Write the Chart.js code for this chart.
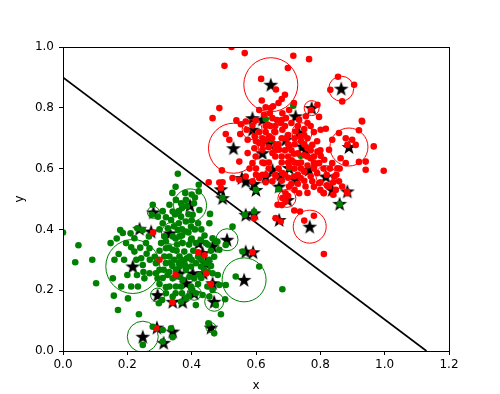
<!DOCTYPE html>
<html>
<head>
<meta charset="utf-8">
<script src="https://cdn.jsdelivr.net/npm/chart.js@4/dist/chart.umd.min.js"></script>
<style>
  html, body { margin: 0; padding: 0; background: #fff; }
  #chart { display: block; }
</style>
</head>
<body>
<canvas id="chart" width="500" height="394"></canvas>
<script>
// tick labels
const xTicks = [0, 0.2, 0.4, 0.6, 0.8, 1.0, 1.2];
const yTicks = [0, 0.2, 0.4, 0.6, 0.8, 1.0];

// decision line end points
const lineX = [0, 1.13];
const lineY = [0.9, 0];

// class +1 (red)
const redPoints = [
  [0.524,1.0],[0.565,0.980],[0.502,0.938],[0.716,0.971],[0.765,0.960],[0.699,0.931],[0.616,0.895],
  [0.662,0.860],[0.690,0.843],[0.680,0.829],[0.670,0.816],[0.653,0.805],[0.646,0.799],[0.630,0.802],
  [0.618,0.824],[0.486,0.799],[0.465,0.766],[0.539,0.759],[0.568,0.755],[0.553,0.746],[0.506,0.714],
  [0.517,0.695],[0.551,0.714],[0.571,0.728],[0.589,0.742],[0.596,0.706],[0.574,0.695],[0.548,0.623],
  [0.494,0.594],[0.574,0.651],[0.595,0.667],[0.610,0.684],[0.630,0.695],[0.620,0.662],[0.599,0.640],
  [0.589,0.618],[0.625,0.618],[0.651,0.651],[0.672,0.662],[0.661,0.678],[0.641,0.706],[0.657,0.722],
  [0.682,0.728],[0.695,0.700],[0.703,0.673],[0.718,0.649],[0.711,0.627],[0.732,0.618],[0.750,0.644],
  [0.760,0.667],[0.775,0.678],[0.791,0.656],[0.770,0.634],[0.781,0.607],[0.796,0.618],[0.812,0.629],
  [0.801,0.642],[0.739,0.706],[0.723,0.722],[0.734,0.761],[0.755,0.772],[0.771,0.793],[0.791,0.810],
  [0.796,0.770],[0.801,0.728],[0.817,0.731],[0.693,0.766],[0.677,0.750],[0.703,0.793],[0.718,0.816],
  [0.682,0.782],[0.651,0.766],[0.636,0.745],[0.625,0.777],[0.643,0.782],[0.610,0.793],[0.599,0.759],
  [0.827,0.662],[0.837,0.695],[0.858,0.717],[0.879,0.700],[0.899,0.695],[0.884,0.678],[0.910,0.678],
  [0.920,0.726],[0.930,0.755],[0.966,0.673],[0.941,0.623],[0.941,0.596],[0.997,0.593],[0.837,0.618],
  [0.863,0.634],[0.879,0.618],[0.853,0.601],[0.843,0.574],[0.827,0.541],[0.811,0.519],[0.848,0.530],
  [0.858,0.558],[0.868,0.541],[0.884,0.519],[0.796,0.552],[0.775,0.558],[0.754,0.541],[0.734,0.519],
  [0.703,0.541],[0.692,0.519],[0.682,0.503],[0.667,0.481],[0.692,0.492],[0.661,0.574],[0.682,0.585],
  [0.703,0.607],[0.718,0.574],[0.739,0.569],[0.651,0.558],[0.630,0.580],[0.610,0.569],[0.589,0.558],
  [0.568,0.574],[0.548,0.563],[0.527,0.569],[0.486,0.554],[0.453,0.555],[0.491,0.536],[0.719,0.462],
  [0.737,0.459],[0.677,0.426],[0.661,0.437],[0.750,0.429],[0.780,0.445],[0.811,0.319],[0.594,0.437],
  [0.855,0.902],[0.905,0.876],[0.831,0.859],[0.868,0.821],[0.929,0.757],[0.920,0.622],[0.883,0.524],
  [0.810,0.520],[0.840,0.514],
  [0.62,0.70],[0.66,0.72],[0.68,0.70],[0.70,0.68],[0.72,0.70],[0.74,0.69],[0.76,0.70],[0.78,0.72],
  [0.79,0.69],[0.66,0.64],[0.68,0.62],[0.70,0.64],[0.72,0.60],[0.74,0.62],[0.76,0.64],[0.78,0.62],
  [0.64,0.60],[0.62,0.62],[0.60,0.60],[0.61,0.575],[0.63,0.555],[0.67,0.60],[0.69,0.58],[0.71,0.55],
  [0.73,0.58],[0.75,0.59],[0.77,0.575],[0.79,0.585],[0.80,0.555],[0.82,0.545],[0.84,0.555],
  [0.645,0.74],[0.665,0.76],[0.69,0.74],[0.71,0.75],[0.73,0.74],[0.75,0.73],[0.76,0.75],
  [0.63,0.72],[0.65,0.70],[0.67,0.68],[0.69,0.66],[0.71,0.66],[0.73,0.65],[0.75,0.68],[0.77,0.66],
  [0.78,0.64],[0.80,0.66],[0.81,0.60],[0.82,0.58],[0.83,0.60],[0.85,0.58],[0.86,0.60],[0.78,0.60],
  [0.76,0.61],[0.74,0.60],[0.72,0.62],[0.70,0.62],[0.68,0.64],[0.66,0.66],[0.64,0.67],[0.62,0.68],
  [0.60,0.69],[0.61,0.72],[0.63,0.74],[0.66,0.74],[0.68,0.76],[0.70,0.71],[0.72,0.68],[0.75,0.71],
  [0.77,0.74],[0.64,0.62],[0.62,0.58],[0.60,0.58],[0.58,0.60],[0.66,0.58],[0.68,0.56],[0.70,0.57],
  [0.73,0.55],[0.75,0.56],[0.78,0.54],[0.80,0.53],[0.76,0.52],[0.72,0.53],[0.70,0.51],[0.68,0.48],
  // red points on the green side
  [0.280,0.390],[0.300,0.300],[0.350,0.250],[0.420,0.325],[0.440,0.315],[0.445,0.255],[0.460,0.220],
  [0.340,0.160],[0.290,0.075],[0.589,0.325],[0.496,0.555]
];

// class -1 (green)
const greenPoints = [
  [0.0,0.39],[0.048,0.348],[0.038,0.292],[0.091,0.300],[0.103,0.223],[0.148,0.355],[0.160,0.300],
  [0.158,0.182],[0.171,0.135],[0.202,0.173],[0.236,0.121],[0.178,0.398],[0.186,0.388],[0.167,0.370],
  [0.173,0.319],[0.155,0.239],[0.181,0.212],[0.212,0.212],[0.233,0.212],[0.253,0.239],[0.269,0.256],
  [0.248,0.283],[0.228,0.300],[0.243,0.305],[0.222,0.327],[0.222,0.371],[0.231,0.404],[0.210,0.387],
  [0.196,0.355],[0.212,0.341],[0.248,0.398],[0.267,0.377],[0.258,0.355],[0.269,0.338],[0.289,0.289],
  [0.289,0.256],[0.300,0.267],[0.294,0.239],[0.313,0.267],[0.320,0.289],[0.315,0.311],[0.320,0.338],
  [0.305,0.355],[0.315,0.377],[0.326,0.404],[0.336,0.431],[0.341,0.459],[0.331,0.481],[0.357,0.583],
  [0.351,0.497],[0.367,0.486],[0.382,0.497],[0.367,0.442],[0.382,0.426],[0.398,0.409],[0.382,0.393],
  [0.362,0.377],[0.372,0.355],[0.398,0.366],[0.413,0.355],[0.429,0.366],[0.444,0.355],[0.465,0.371],
  [0.455,0.420],[0.457,0.451],[0.424,0.464],[0.422,0.547],[0.422,0.525],[0.410,0.505],[0.348,0.449],
  [0.357,0.398],[0.341,0.377],[0.341,0.333],[0.331,0.311],[0.346,0.300],[0.362,0.311],[0.377,0.327],
  [0.393,0.311],[0.377,0.289],[0.362,0.278],[0.351,0.267],[0.382,0.267],[0.398,0.278],[0.413,0.289],
  [0.429,0.278],[0.444,0.289],[0.455,0.300],[0.439,0.267],[0.424,0.250],[0.408,0.239],[0.393,0.244],
  [0.372,0.234],[0.362,0.244],[0.341,0.239],[0.331,0.212],[0.351,0.212],[0.367,0.212],[0.320,0.190],
  [0.308,0.168],[0.298,0.157],[0.341,0.179],[0.367,0.162],[0.382,0.173],[0.398,0.212],[0.413,0.190],
  [0.413,0.151],[0.434,0.184],[0.455,0.179],[0.465,0.201],[0.486,0.217],[0.506,0.217],[0.481,0.250],
  [0.465,0.256],[0.491,0.121],[0.504,0.170],[0.475,0.151],[0.537,0.245],[0.527,0.409],[0.506,0.349],
  [0.486,0.333],[0.475,0.360],[0.610,0.278],[0.682,0.203],[0.449,0.212],[0.279,0.080],[0.310,0.069],
  [0.336,0.075],[0.341,0.045],[0.310,0.031],[0.248,0.020],[0.452,0.091],[0.470,0.058],[0.279,0.481],
  [0.276,0.448],[0.295,0.442],[0.385,0.476],[0.407,0.486],[0.403,0.448],[0.353,0.330],[0.368,0.300],
  [0.385,0.305],[0.335,0.290],[0.325,0.250],[0.392,0.350],[0.405,0.330],[0.355,0.350],[0.370,0.400],
  [0.345,0.410],[0.360,0.420],[0.300,0.330],[0.285,0.310],[0.270,0.300],
  [0.30,0.40],[0.31,0.42],[0.32,0.36],[0.33,0.34],[0.35,0.37],[0.37,0.38],[0.39,0.39],[0.40,0.37],
  [0.41,0.40],[0.36,0.46],[0.37,0.47],[0.39,0.45],[0.40,0.43],[0.42,0.42],[0.43,0.40],[0.44,0.38],
  [0.42,0.31],[0.43,0.30],[0.40,0.30],[0.38,0.28],[0.36,0.29],[0.34,0.28],[0.33,0.26],[0.31,0.24],
  [0.30,0.22],[0.32,0.21],[0.35,0.19],[0.37,0.19],[0.39,0.18],[0.40,0.20],[0.42,0.22],[0.43,0.24],
  [0.45,0.26],[0.46,0.28],[0.47,0.31],[0.46,0.33],[0.45,0.35],[0.48,0.36],[0.26,0.32],[0.25,0.26],
  [0.23,0.25],[0.20,0.25],[0.19,0.30],[0.24,0.34],[0.32,0.44],[0.31,0.46],[0.34,0.52],[0.35,0.54],
  [0.38,0.52],[0.40,0.515],
  // green points on the red side
  [0.496,0.503],[0.565,0.448],[0.594,0.459],[0.600,0.530],[0.630,0.763],[0.646,0.695],[0.716,0.807],
  [0.670,0.532],[0.703,0.602],[0.739,0.642],[0.860,0.483],[0.558,0.327]
];

// support vectors (stars)
const starPoints = [
  [0.646,0.876],[0.865,0.863],[0.773,0.799],[0.589,0.728],[0.530,0.667],[0.889,0.671],[0.620,0.761],
  [0.641,0.684],[0.620,0.651],[0.692,0.695],[0.734,0.717],[0.744,0.673],[0.754,0.662],[0.723,0.772],
  [0.589,0.766],[0.651,0.596],[0.677,0.580],[0.703,0.602],[0.723,0.563],[0.765,0.596],[0.817,0.574],
  [0.837,0.530],[0.884,0.525],[0.860,0.484],[0.698,0.497],[0.672,0.431],[0.767,0.409],[0.556,0.569],
  [0.568,0.558],[0.594,0.550],[0.600,0.530],[0.491,0.532],[0.496,0.503],[0.568,0.448],[0.594,0.453],
  [0.568,0.327],[0.591,0.325],[0.672,0.541],[0.630,0.574],
  [0.395,0.479],[0.281,0.456],[0.238,0.402],[0.274,0.393],[0.217,0.278],[0.333,0.387],[0.510,0.366],
  [0.563,0.234],[0.422,0.355],[0.434,0.322],[0.444,0.289],[0.436,0.256],[0.465,0.223],[0.403,0.255],
  [0.362,0.255],[0.382,0.223],[0.408,0.190],[0.470,0.162],[0.341,0.162],[0.372,0.162],[0.294,0.184],
  [0.248,0.047],[0.292,0.077],[0.313,0.027],[0.341,0.064],[0.460,0.077],[0.465,0.344]
];

// circles around some support vectors, radius in screen px
const redCircles = [
  [0.646,0.876],[0.865,0.863],[0.773,0.799],[0.530,0.667],[0.889,0.671],[0.743,0.718],[0.588,0.728],
  [0.817,0.577],[0.696,0.502],[0.767,0.409]
];
const redCircleR = [27, 12.5, 7.5, 25, 19, 10, 10, 10, 9, 16.5];
const greenCircles = [
  [0.395,0.479],[0.281,0.456],[0.217,0.278],[0.340,0.387],[0.510,0.366],[0.563,0.234],[0.408,0.190],
  [0.470,0.162],[0.294,0.184],[0.248,0.047],[0.460,0.077]
];
const greenCircleR = [16.5, 6, 27, 11, 11, 22, 7, 9.5, 7, 15.5, 5];

const toXY = list => list.map(p => ({ x: p[0], y: p[1] }));

function makeStar(R) {
  const c = document.createElement("canvas");
  const s = Math.ceil(R * 2 + 2);
  c.width = s;
  c.height = s;
  const g = c.getContext("2d");
  g.beginPath();
  for (let i = 0; i < 10; i++) {
    const r = i % 2 ? R * 0.4 : R;
    const a = -Math.PI / 2 + (i * Math.PI) / 5;
    g.lineTo(s / 2 + r * Math.cos(a), s / 2 + 0.6 + r * Math.sin(a));
  }
  g.closePath();
  g.fillStyle = "#000";
  g.fill();
  return c;
}
const starImg = makeStar(7.8);

const font = { family: "DejaVu Sans", size: 12 };

// frame on all four sides like matplotlib spines
const framePlugin = {
  id: "frame",
  afterDraw(chart) {
    const { ctx, chartArea: a } = chart;
    ctx.save();
    ctx.strokeStyle = "#000";
    ctx.lineWidth = 1;
    ctx.strokeRect(Math.round(a.left) + 0.5, Math.round(a.top) + 0.5,
      Math.round(a.right - a.left), Math.round(a.bottom - a.top));
    ctx.restore();
  },
};

new Chart(document.getElementById("chart"), {
  type: "scatter",
  data: {
    datasets: [
      {
        type: "line",
        data: lineX.map((x, i) => ({ x: x, y: lineY[i] })),
        borderColor: "#000",
        borderWidth: 1.7,
        pointRadius: 0,
        showLine: true,
        fill: false,
        clip: 0,
        order: 6,
      },
      {
        data: toXY(starPoints),
        pointStyle: starImg,
        pointRadius: 8,
        clip: 0,
        order: 5,
      },
      {
        data: toXY(greenPoints),
        backgroundColor: "#008000",
        borderWidth: 0,
        pointRadius: 3.3,
        clip: 0,
        order: 4,
      },
      {
        data: toXY(redPoints),
        backgroundColor: "#ff0000",
        borderWidth: 0,
        pointRadius: 3.3,
        clip: 0,
        order: 3,
      },
      {
        data: toXY(redCircles),
        backgroundColor: "rgba(0,0,0,0)",
        borderColor: "#ff0000",
        borderWidth: 1,
        pointRadius: redCircleR,
        clip: 0,
        order: 2,
      },
      {
        data: toXY(greenCircles),
        backgroundColor: "rgba(0,0,0,0)",
        borderColor: "#008000",
        borderWidth: 1,
        pointRadius: greenCircleR,
        clip: 0,
        order: 1,
      },
    ],
  },
  options: {
    responsive: false,
    animation: false,
    devicePixelRatio: 1,
    layout: { padding: { left: 0, right: 51, top: 47, bottom: 0 } },
    plugins: { legend: { display: false }, tooltip: { enabled: false } },
    elements: { point: { hoverRadius: 0 } },
    scales: {
      x: {
        type: "linear",
        min: 0,
        max: 1.2,
        afterBuildTicks: s => { s.ticks = xTicks.map(v => ({ value: v })); },
        afterFit: s => { s.height = 43; },
        ticks: { callback: v => v.toFixed(1), color: "#000", font: font, padding: 3, autoSkip: false, maxRotation: 0 },
        grid: { display: true, drawOnChartArea: false, drawTicks: true, tickLength: 4, color: "#000" },
        border: { display: true, color: "#000", width: 1 },
        title: { display: true, text: "x", color: "#000", font: font, padding: { top: 0, bottom: 1 } },
      },
      y: {
        type: "linear",
        min: 0,
        max: 1,
        afterBuildTicks: s => { s.ticks = yTicks.map(v => ({ value: v })); },
        afterFit: s => { s.width = 63; },
        ticks: { callback: v => v.toFixed(1), color: "#000", font: font, padding: 5, autoSkip: false },
        grid: { display: true, drawOnChartArea: false, drawTicks: true, tickLength: 4, color: "#000" },
        border: { display: true, color: "#000", width: 1 },
        title: { display: true, text: "y", color: "#000", font: font, padding: { top: 13, bottom: 0 } },
      },
    },
  },
  plugins: [framePlugin],
});
</script>
</body>
</html>
